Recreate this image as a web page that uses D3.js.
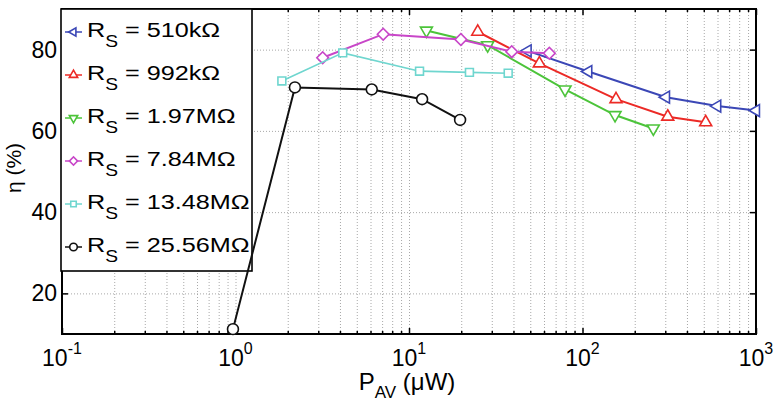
<!DOCTYPE html>
<html><head><meta charset="utf-8">
<script src="https://cdn.jsdelivr.net/npm/d3@7"></script>
<style>
body{margin:0;background:#fff}
text{font-family:"Liberation Sans",Arial,Helvetica,sans-serif;fill:#000}
</style>
</head><body>
<svg id="c" width="775" height="403"></svg>
<script>
// ---- data ----
const seriesNames = ["510kΩ", "992kΩ", "1.97MΩ", "7.84MΩ", "13.48MΩ", "25.56MΩ"];
const xBlue  = [48.3, 108, 303, 598, 1000];
const yBlue  = [79.7, 74.6, 68.3, 66.1, 65.0];
const xRed   = [24.9, 56.4, 156, 310, 513];
const yRed   = [84.4, 76.6, 67.8, 63.5, 62.1];
const xGreen = [12.6, 28.4, 79.3, 154, 256];
const yGreen = [84.7, 81.1, 70.2, 63.9, 60.6];
const xMag   = [3.18, 7.1, 19.9, 39.1, 64.4];
const yMag   = [78.0, 83.8, 82.5, 79.5, 79.1];
const xCyan  = [1.85, 4.15, 11.5, 22.3, 37.3];
const yCyan  = [72.3, 79.2, 74.7, 74.4, 74.2];
const xBlack = [0.967, 2.2, 6.1, 11.9, 19.7];
const yBlack = [11.2, 70.7, 70.2, 67.8, 62.7];
const xMajorTicks = [0.1, 1, 10, 100, 1000];
const xTickExponents = ["-1", "0", "1", "2", "3"];
const yTicks = [20, 40, 60, 80];

const seriesX = [xBlue, xRed, xGreen, xMag, xCyan, xBlack];
const seriesY = [yBlue, yRed, yGreen, yMag, yCyan, yBlack];
const colors = ["#3b47b6", "#ec2a26", "#4cc43a", "#c846c8", "#6fd6cf", "#111111"];
const markers = ["left", "up", "down", "diamond", "square", "circle"];
const widths = [2, 2, 2, 2, 1.6, 2];

// ---- layout ----
const L = 62, R = 756, T = 9, B = 334;
const svg = d3.select("#c");
const x = d3.scaleLog().domain([0.1, 1000]).range([L, R]);
const y = d3.scaleLinear().domain([10, 90]).range([B, T]);

const minor = [];
for (let e = -1; e < 3; e++) for (let m = 1; m < 10; m++) minor.push(m * Math.pow(10, e));
minor.push(1000);

// grid
const gx = svg.append("g").attr("transform", `translate(0,${B})`)
  .call(d3.axisBottom(x).tickValues(minor).tickSize(-(B - T)).tickFormat(""));
gx.select(".domain").remove();
gx.selectAll("line").attr("stroke", "#a8a8a8").attr("stroke-width", 1).attr("stroke-dasharray", "1,2");
const gy = svg.append("g").attr("transform", `translate(${L},0)`)
  .call(d3.axisLeft(y).tickValues(yTicks).tickSize(-(R - L)).tickFormat(""));
gy.select(".domain").remove();
gy.selectAll("line").attr("stroke", "#a8a8a8").attr("stroke-width", 1).attr("stroke-dasharray", "1,2");

// inner ticks
function tickAxis(gen, tr, vals, len) {
  const g = svg.append("g").attr("transform", tr).call(gen.tickValues(vals).tickSize(len).tickFormat(""));
  g.select(".domain").remove();
  g.selectAll("line").attr("stroke", "#000").attr("stroke-width", 1.5);
}
const minorOnly = minor.filter(v => !xMajorTicks.includes(v));
tickAxis(d3.axisBottom(x), `translate(0,${B})`, minorOnly, -3);
tickAxis(d3.axisBottom(x), `translate(0,${B})`, xMajorTicks, -6);
tickAxis(d3.axisTop(x), `translate(0,${T})`, minorOnly, -3);
tickAxis(d3.axisTop(x), `translate(0,${T})`, xMajorTicks, -6);
tickAxis(d3.axisLeft(y), `translate(${L},0)`, yTicks, -6);
tickAxis(d3.axisRight(y), `translate(${R},0)`, yTicks, -6);

// box
svg.append("rect").attr("x", L).attr("y", T).attr("width", R - L).attr("height", B - T)
  .attr("fill", "none").attr("stroke", "#000").attr("stroke-width", 2);

// tick labels
xMajorTicks.forEach((v, i) => {
  const t = svg.append("text").attr("x", x(v)).attr("y", 366).attr("text-anchor", "middle")
    .style("font-size", "23px");
  t.append("tspan").text("10");
  t.append("tspan").attr("dy", -12).style("font-size", "16px").text(xTickExponents[i]);
});
yTicks.forEach(v => {
  svg.append("text").attr("x", 57).attr("y", y(v) + 8).attr("text-anchor", "end")
    .style("font-size", "23px").text(v);
});

// axis labels
const xl = svg.append("text").attr("x", 407).attr("y", 390).attr("text-anchor", "middle").style("font-size", "24px");
xl.append("tspan").text("P");
xl.append("tspan").attr("dy", 8).style("font-size", "17px").text("AV");
xl.append("tspan").attr("dy", -8).text(" (μW)");
svg.append("text").attr("transform", "translate(21,168) rotate(-90)").attr("text-anchor", "middle")
  .style("font-size", "21px").text("η (%)");

// marker helper
function marker(g, type, cx, cy, color, s) {
  let sym, rot = 0;
  if (type === "circle") sym = d3.symbol(d3.symbolCircle, s * 1.5);
  else if (type === "square") sym = d3.symbol(d3.symbolSquare, s);
  else if (type === "diamond") { sym = d3.symbol(d3.symbolSquare, s * 1.1); rot = 45; }
  else {
    sym = d3.symbol(d3.symbolTriangle, s);
    rot = type === "up" ? 0 : type === "down" ? 180 : -90;
  }
  g.append("path").attr("d", sym()).attr("transform", `translate(${cx},${cy}) rotate(${rot})`)
    .attr("fill", "#fff").attr("stroke", color).attr("stroke-width", 1.6);
}

// legend box
svg.append("rect").attr("x", 61).attr("y", 9).attr("width", 191).attr("height", 262)
  .attr("fill", "#fff").attr("stroke", "#000").attr("stroke-width", 1.6);
seriesNames.forEach((n, i) => {
  const cy = 32 + i * 43;
  const g = svg.append("g");
  g.append("line").attr("x1", 65).attr("x2", 82).attr("y1", cy).attr("y2", cy)
    .attr("stroke", colors[i]).attr("stroke-width", 1.5);
  marker(g, markers[i], 73.5, cy, colors[i], 30);
  const t = g.append("text").attr("transform", `translate(87,${cy + 5}) scale(1.2,1)`)
    .style("font-size", "21px");
  t.append("tspan").text("R");
  t.append("tspan").attr("dy", 10).style("font-size", "16px").text("S");
  t.append("tspan").attr("dy", -10).text(" = " + n);
});

// series
const line = d3.line().x(d => x(d[0])).y(d => y(d[1]));
seriesX.forEach((xs, i) => {
  const pts = xs.map((v, j) => [v, seriesY[i][j]]);
  const g = svg.append("g");
  g.append("path").attr("d", line(pts)).attr("fill", "none").attr("stroke", colors[i])
    .attr("stroke-width", widths[i]);
  pts.forEach(p => marker(g, markers[i], x(p[0]), y(p[1]), colors[i], 62));
});
</script>
</body></html>
